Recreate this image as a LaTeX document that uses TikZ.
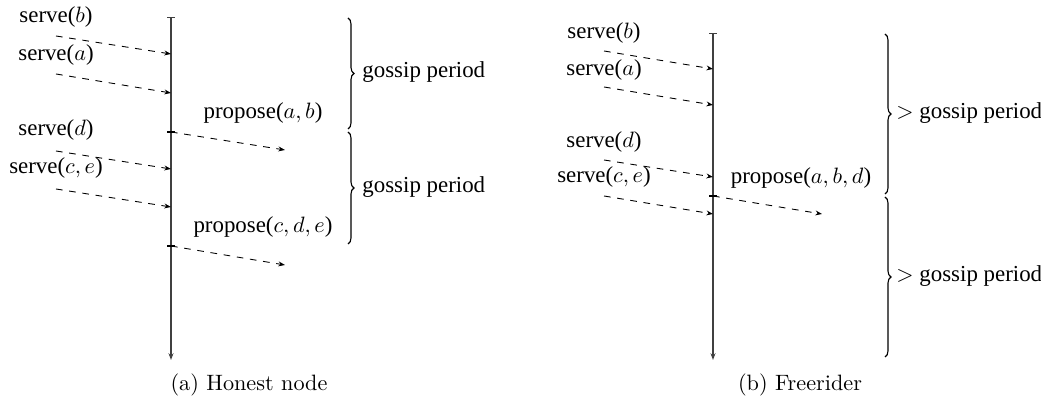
\documentclass[tikz,border=0pt]{standalone}
\usepackage{fontspec}
\newfontfamily\tms{Liberation Serif}
\usetikzlibrary{arrows.meta,decorations.pathreplacing}
\begin{document}
\begin{tikzpicture}[x=0.45pt,y=-0.45pt,
  lbl/.style={font=\tms\fontsize{10.3}{12}\selectfont, inner sep=0pt},
  captxt/.style={font=\fontsize{10}{12}\selectfont, inner sep=0pt},
  msg/.style={dashed, line width=0.4pt, -{Stealth[length=3pt,width=2.2pt]}},
  tl/.style={line width=0.6pt, draw=black!75, {Bar[width=3.6pt]}-{Stealth[length=3pt,width=2.2pt]}},
  tickm/.style={line width=0.5pt},
  br/.style={decorate, decoration={brace, amplitude=2.7pt}, line width=0.5pt}]
\useasboundingbox (0,0) rectangle (1041,396);

% ---------- (a) Honest node ----------
\coordinate (LT) at (171,17);
\coordinate (LB) at (171,360);
\draw[tl] (LT) -- (LB);

\node[lbl] (sbL) at (56,17) {serve($b$)};
\node[lbl] (saL) at (56,55) {serve($a$)};
\node[lbl] (sdL) at (56,130) {serve($d$)};
\node[lbl] (sceL) at (56,168) {serve($c,e$)};
\node[lbl] (pabL) at (263,113) {propose($a,b$)};
\node[lbl] (pcdeL) at (263,227) {propose($c,d,e$)};

\coordinate (a1s) at (56,36);  \coordinate (a1e) at (171,54);
\coordinate (a2s) at (56,74);  \coordinate (a2e) at (171,93);
\coordinate (a3s) at (56,151); \coordinate (a3e) at (171,169);
\coordinate (a4s) at (56,189); \coordinate (a4e) at (171,207);
\coordinate (p1s) at (171,132); \coordinate (p1e) at (285,150);
\coordinate (p2s) at (171,246); \coordinate (p2e) at (285,265);
\draw[msg] (a1s) -- (a1e);
\draw[msg] (a2s) -- (a2e);
\draw[msg] (a3s) -- (a3e);
\draw[msg] (a4s) -- (a4e);
\draw[msg] (p1s) -- (p1e);
\draw[msg] (p2s) -- (p2e);
\draw[tickm] ([xshift=-1.8pt]p1s) -- ([xshift=1.8pt]p1s);
\draw[tickm] ([xshift=-1.8pt]p2s) -- ([xshift=1.8pt]p2s);

\coordinate (b1t) at (348,18);  \coordinate (b1b) at (348,129);
\coordinate (b2t) at (348,132); \coordinate (b2b) at (348,244);
\draw[br] (b1t) -- (b1b);
\draw[br] (b2t) -- (b2b);
\node[lbl, anchor=west] (g1L) at (362,72) {gossip period};
\node[lbl, anchor=west] (g2L) at (362,187) {gossip period};

\node[captxt] (capA) at (249,385) {(a) Honest node};

% ---------- (b) Freerider ----------
\coordinate (RT) at (713,33);
\coordinate (RB) at (713,360);
\draw[tl] (RT) -- (RB);

\node[lbl] (sbR) at (604,33) {serve($b$)};
\node[lbl] (saR) at (604,70) {serve($a$)};
\node[lbl] (sdR) at (604,142) {serve($d$)};
\node[lbl] (sceR) at (604,177) {serve($c,e$)};
\node[lbl] (pabdR) at (801,178) {propose($a,b,d$)};

\coordinate (r1s) at (604,51);  \coordinate (r1e) at (713,69);
\coordinate (r2s) at (604,87);  \coordinate (r2e) at (713,105);
\coordinate (r3s) at (604,160); \coordinate (r3e) at (713,177);
\coordinate (r4s) at (604,196); \coordinate (r4e) at (713,214);
\coordinate (q1s) at (713,196); \coordinate (q1e) at (822,214);
\draw[msg] (r1s) -- (r1e);
\draw[msg] (r2s) -- (r2e);
\draw[msg] (r3s) -- (r3e);
\draw[msg] (r4s) -- (r4e);
\draw[msg] (q1s) -- (q1e);
\draw[tickm] ([xshift=-1.8pt]q1s) -- ([xshift=1.8pt]q1s);

\coordinate (c1t) at (885,34);  \coordinate (c1b) at (885,194);
\coordinate (c2t) at (885,197); \coordinate (c2b) at (885,357);
\draw[br] (c1t) -- (c1b);
\draw[br] (c2t) -- (c2b);
\node[lbl, anchor=west] (g1R) at (896,113) {$>$ gossip period};
\node[lbl, anchor=west] (g2R) at (896,276) {$>$ gossip period};

\node[captxt] (capB) at (800,385) {(b) Freerider};
\end{tikzpicture}
\end{document}
